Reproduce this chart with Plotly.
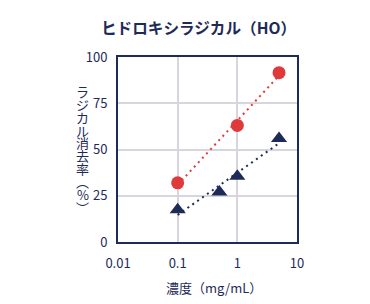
import numpy as np
import plotly.graph_objects as go

# Data
red_x = [0.1, 1, 5]
red_y = [32, 63, 91.5]
navy_x = [0.1, 0.5, 1, 5]
navy_y = [17.5, 27, 35.5, 56]

x_tickvals = [0.01, 0.1, 1, 10]
x_ticktext = ["0.01", "0.1", "1", "10"]
y_tickvals = [0, 25, 50, 75, 100]

title_text = "ヒドロキシラジカル（HO）"
x_title = "濃度（mg/mL）"
y_title_chars = ["ラ", "ジ", "カ", "ル", "消", "去", "率", "︵", "%", "︶"]

RED = "#E0393B"
NAVY = "#1E2A58"
GRID = "#D9D5DD"
FONT = "Noto Sans CJK JP"

W, H = 370, 304
L, R, T, B = 118, 73, 57, 62


def fit_line(xs, ys):
    lx = np.log10(xs)
    k, b = np.polyfit(lx, ys, 1)
    xx = np.array([min(xs), max(xs)])
    return xx, k * np.log10(xx) + b


fig = go.Figure()
rx, ry = fit_line(red_x, red_y)
nx, ny = fit_line(navy_x, navy_y)
fig.add_trace(go.Scatter(x=rx, y=ry, mode="lines",
                         line=dict(color=RED, width=2, dash="2px,4px"),
                         hoverinfo="skip", showlegend=False))
fig.add_trace(go.Scatter(x=nx, y=ny, mode="lines",
                         line=dict(color=NAVY, width=2, dash="2px,4px"),
                         hoverinfo="skip", showlegend=False))
fig.add_trace(go.Scatter(x=red_x, y=red_y, mode="markers",
                         marker=dict(symbol="circle", size=13, color=RED),
                         showlegend=False))
fig.add_trace(go.Scatter(x=navy_x, y=navy_y, mode="markers",
                         marker=dict(symbol="triangle-up", size=14, color=NAVY),
                         showlegend=False))

fig.update_xaxes(type="log", range=[-2, 1], tickvals=x_tickvals, ticktext=x_ticktext,
                 showgrid=True, gridcolor=GRID, gridwidth=1.5,
                 showline=True, linecolor=NAVY, linewidth=2, mirror=True,
                 ticks="outside", ticklen=8, tickcolor="rgba(0,0,0,0)",
                 tickfont=dict(family=FONT, size=13, color=NAVY), zeroline=False)
fig.update_yaxes(range=[0, 100], tickvals=y_tickvals,
                 showgrid=True, gridcolor=GRID, gridwidth=1.5,
                 showline=True, linecolor=NAVY, linewidth=2, mirror=True,
                 ticks="outside", ticklen=6, tickcolor="rgba(0,0,0,0)",
                 tickfont=dict(family=FONT, size=13, color=NAVY), zeroline=False)

annotations = [
    dict(text="<b>" + title_text + "</b>", xref="paper", yref="paper",
         x=(198 - L) / (W - L - R), y=1 + (T - 27) / (H - T - B),
         showarrow=False, font=dict(family=FONT, size=15.6, color=NAVY),
         xanchor="center", yanchor="middle"),
    dict(text=x_title, xref="paper", yref="paper",
         x=(214 - L) / (W - L - R), y=-(287 - (H - B)) / (H - T - B),
         showarrow=False, font=dict(family=FONT, size=13, color=NAVY),
         xanchor="center", yanchor="middle"),
]
y0 = 91.5
step = 12.85
for i, ch in enumerate(y_title_chars):
    py = y0 + i * step
    annotations.append(dict(text=ch, xref="paper", yref="paper",
                            x=(82.7 - L) / (W - L - R),
                            y=1 - (py - T) / (H - T - B),
                            showarrow=False,
                            font=dict(family=FONT, size=13, color=NAVY),
                            xanchor="center", yanchor="middle"))

fig.update_layout(width=W, height=H, margin=dict(l=L, r=R, t=T, b=B),
                  paper_bgcolor="white", plot_bgcolor="white",
                  annotations=annotations, showlegend=False,
                  font=dict(family=FONT, color=NAVY))

fig.write_html("out.html")
